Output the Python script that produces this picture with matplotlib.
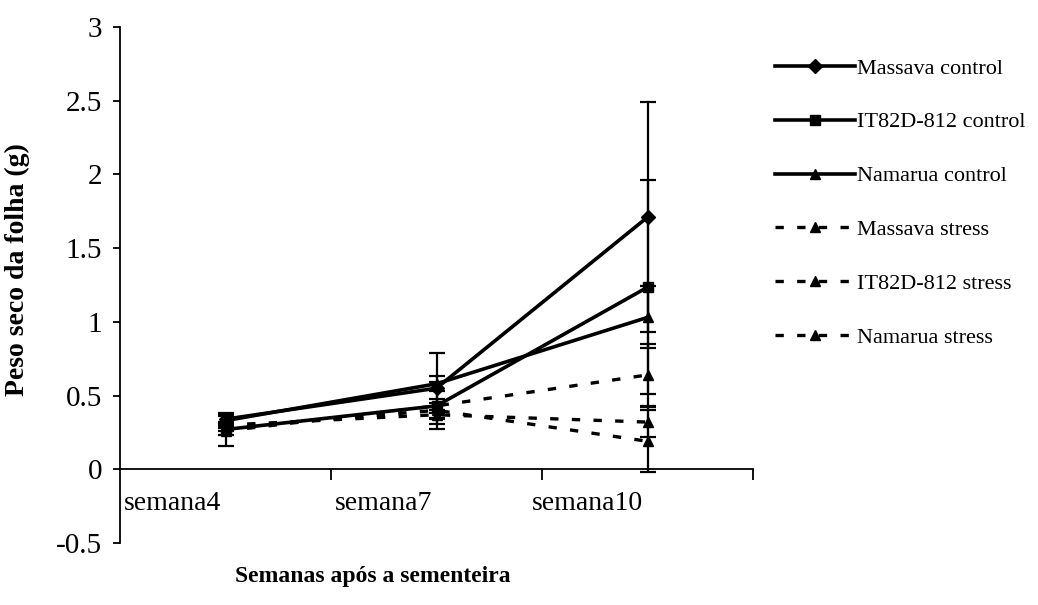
import matplotlib
matplotlib.use('Agg')
import matplotlib.pyplot as plt

plt.rcParams['font.family'] = ['Liberation Serif', 'DejaVu Serif']
plt.rcParams['axes.unicode_minus'] = False

semanas = ['semana4', 'semana7', 'semana10']

massava_control = [0.34, 0.55, 1.71]
it82d_control = [0.27, 0.43, 1.235]
namarua_control = [0.33, 0.58, 1.03]
massava_stress = [0.26, 0.43, 0.64]
it82d_stress = [0.30, 0.37, 0.32]
namarua_stress = [0.28, 0.40, 0.19]

massava_control_err = [0.03, 0.24, 0.78]
it82d_control_err = [0.11, 0.05, 0.725]
namarua_control_err = [0.03, 0.05, 0.21]
massava_stress_err = [0.03, 0.16, 0.21]
it82d_stress_err = [0.02, 0.03, 0.10]
namarua_stress_err = [0.02, 0.05, 0.21]

y_ticks = [-0.5, 0, 0.5, 1, 1.5, 2, 2.5, 3]
y_tick_labels = ['-0.5', '0', '0.5', '1', '1.5', '2', '2.5', '3']

series = [
    ('Massava control', massava_control, massava_control_err, 'D', '-'),
    ('IT82D-812 control', it82d_control, it82d_control_err, 's', '-'),
    ('Namarua control', namarua_control, namarua_control_err, '^', '-'),
    ('Massava stress', massava_stress, massava_stress_err, '^', (0, (2.5, 4))),
    ('IT82D-812 stress', it82d_stress, it82d_stress_err, '^', (0, (2.5, 4))),
    ('Namarua stress', namarua_stress, namarua_stress_err, '^', (0, (2.5, 4))),
]

fig = plt.figure(figsize=(10.38, 6.05), dpi=100)
ax = fig.add_axes([120 / 1038, 1 - 543 / 605, 633 / 1038, 516 / 605])

x = list(range(len(semanas)))
handles = []
for name, vals, errs, marker, ls in series:
    ax.errorbar(x, vals, yerr=errs, fmt='none', ecolor='black',
                elinewidth=1.6, capsize=6, capthick=1.6, zorder=2)
    line, = ax.plot(x, vals, color='black', linestyle=ls,
                    linewidth=2.6 if ls == '-' else 2.4,
                    marker=marker, markersize=7, markerfacecolor='black',
                    markeredgecolor='black', label=name, zorder=3)
    handles.append(line)

ax.set_xlim(-0.5, 2.5)
ax.set_ylim(-0.5, 3)
ax.spines['top'].set_visible(False)
ax.spines['right'].set_visible(False)
ax.spines['bottom'].set_position(('data', 0))
ax.spines['left'].set_linewidth(1.3)
ax.spines['bottom'].set_linewidth(1.3)

ax.set_xticks([0.5, 1.5, 2.5])
ax.set_xticklabels([])
ax.tick_params(axis='x', direction='out', length=8, width=1.3)
ax.set_yticks(y_ticks)
ax.set_yticklabels(y_tick_labels, fontsize=21)
ax.tick_params(axis='y', direction='out', length=5, width=1.3, pad=8)

for i, s in enumerate(semanas):
    ax.text(i - 0.02, -0.23, s, ha='right', va='center', fontsize=20)

ax.set_ylabel('Peso seco da folha (g)', fontsize=20, fontweight='bold')
ax.yaxis.set_label_coords(-0.142, 0.53)
ax.set_xlabel('Semanas após a sementeira', fontsize=17, fontweight='bold')
ax.xaxis.set_label_coords(0.40, -0.045)

ax.legend(handles=handles, loc='upper left', bbox_to_anchor=(775 / 1038, 1 - 58 / 605),
          bbox_transform=fig.transFigure, frameon=False, fontsize=16,
          handlelength=3.6, handletextpad=0.1, labelspacing=1.5, borderpad=0,
          borderaxespad=0)

fig.savefig('out.png', dpi=100)
